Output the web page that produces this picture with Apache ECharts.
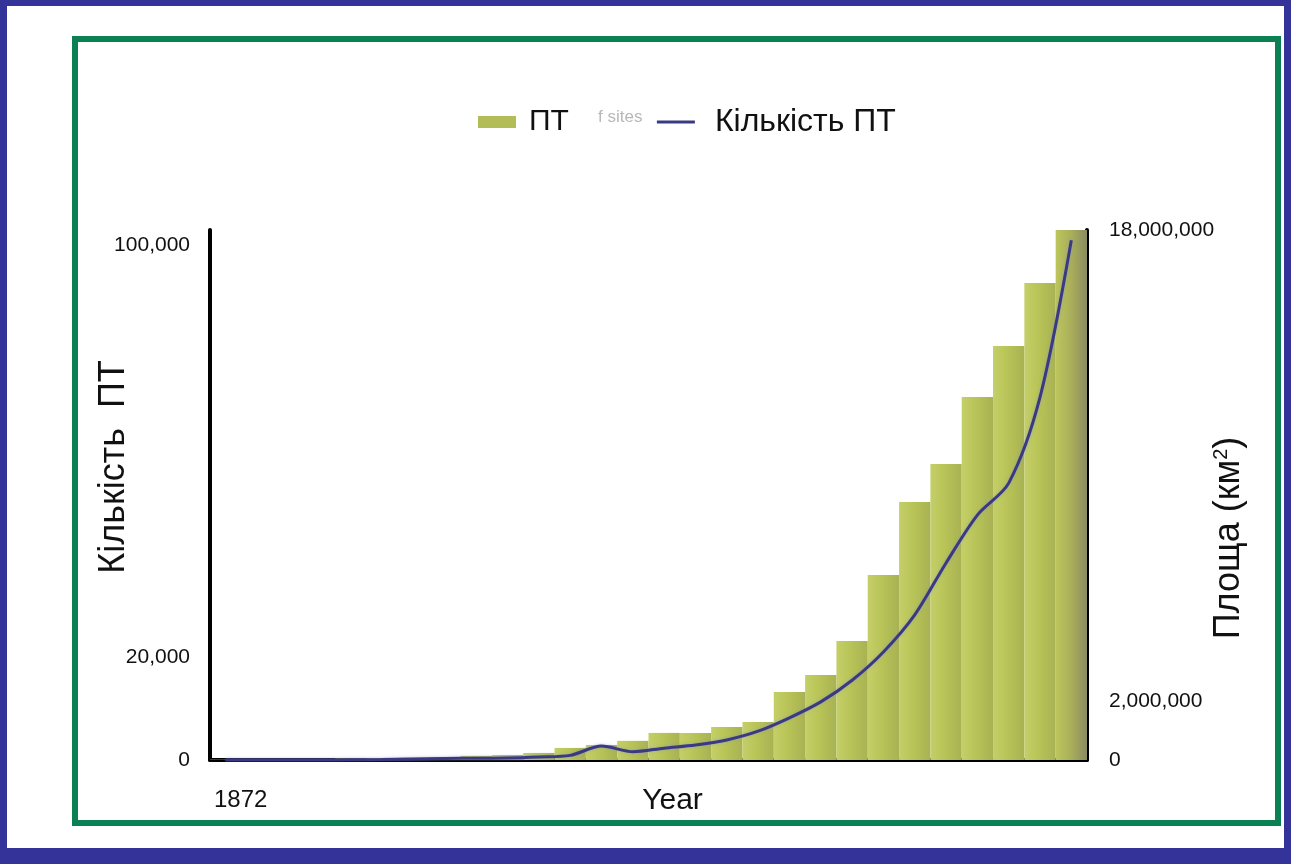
<!DOCTYPE html>
<html>
<head>
<meta charset="utf-8">
<script src="https://cdn.jsdelivr.net/npm/echarts@6/dist/echarts.min.js"></script>
<style>
  html, body { margin: 0; padding: 0; }
  body { width: 1291px; height: 864px; background: #333399; position: relative; overflow: hidden; }
  #page { position: absolute; left: 7px; top: 6px; width: 1277px; height: 842px; background: #ffffff; }
  #frame { position: absolute; left: 72px; top: 36px; width: 1197px; height: 778px; border: 6px solid #0b8052; }
  #chart { position: absolute; left: 0; top: 0; width: 1291px; height: 864px; }
</style>
</head>
<body>
<div id="page"></div>
<div id="frame"></div>
<div id="chart"></div>
<script>
// Categories (5-year steps, only the first label is shown in the reference)
const years = ['1872','1877','1882','1887','1892','1897','1902','1907','1912','1917',
               '1922','1927','1932','1937','1942','1947','1952','1957','1962','1967',
               '1972','1977','1982','1987','1992','1997','2002','2007'];
// Area (km²) – bars, right axis
const areaValues = [10000, 15000, 20000, 30000, 50000, 60000, 80000, 100000,
                    140000, 170000, 240000, 410000, 510000, 650000, 920000, 920000,
                    1120000, 1290000, 2310000, 2890000, 4040000, 6280000, 8760000,
                    10050000, 12330000, 14060000, 16200000, 18000000];
// Number of protected territories – line, left axis
const countValues = [0, 0, 0, 0, 50, 100, 200, 300, 350, 400, 600, 900, 2700, 1600,
                     2300, 2900, 3900, 5600, 8200, 11300, 15500, 21000, 28200, 38300,
                     47600, 53800, 70500, 101000];
// Tick labels shown
const leftTicks = [0, 20000, 100000];
const rightTicks = [0, 2000000, 18000000];

const FONT = '"Liberation Sans", Arial, sans-serif';
const chart = echarts.init(document.getElementById('chart'), null, { renderer: 'canvas' });

function barColor(p) {
  const last = p.dataIndex === areaValues.length - 1;
  return new echarts.graphic.LinearGradient(0, 0, 1, 0, last ? [
    { offset: 0, color: '#bcc65c' }, { offset: 0.5, color: '#a9ae5a' }, { offset: 1, color: '#8a8b62' }
  ] : [
    { offset: 0, color: '#c4cf68' }, { offset: 0.45, color: '#b8c457' }, { offset: 1, color: '#a8b254' }
  ]);
}

const fmt = v => v.toLocaleString('en-US');

chart.setOption({
  animation: false,
  textStyle: { fontFamily: FONT },
  legend: {
    left: 473, top: 101,
    itemWidth: 38, itemHeight: 12, itemGap: 88,
    textStyle: { fontSize: 30, color: '#111', fontFamily: FONT, padding: [0, 0, 0, 8] },
    data: [
      { name: 'ПТ', icon: 'rect', itemStyle: { color: '#b2bd58' } },
      { name: 'Кількість ПТ', icon: 'path://M0,0 L40,0 L40,3 L0,3 Z', itemStyle: { color: '#3a3a82' },
        textStyle: { fontSize: 32, color: '#111', fontFamily: FONT, padding: [0, 0, 0, 15] } }
    ]
  },
  graphic: [
    { type: 'text', left: 598, top: 109, silent: true,
      style: { text: 'f sites', fill: '#b8b8b8', font: '17px ' + FONT } }
  ],
  grid: { left: 210, right: 204, top: 230, bottom: 104, containLabel: false },
  xAxis: {
    type: 'category',
    data: years,
    name: 'Year',
    nameLocation: 'middle',
    nameGap: 26,
    nameMoveOverlap: false,
    nameTextStyle: { fontSize: 30, color: '#111', fontFamily: FONT, padding: [0, 0, 0, 48] },
    axisLine: { show: true, lineStyle: { color: '#000', width: 4 } },
    axisTick: { show: false },
    axisLabel: {
      interval: (i) => i === 0,
      fontSize: 24, color: '#111', fontFamily: FONT,
      margin: 28, padding: [0, 0, 0, 30]
    },
    splitLine: { show: false }
  },
  yAxis: [
    {
      type: 'value', position: 'left', min: 0, max: 103000,
      name: 'Кількість  ПТ', nameLocation: 'middle', nameGap: 78, nameRotate: 90,
      nameMoveOverlap: false,
      nameTextStyle: { fontSize: 36, color: '#111', fontFamily: FONT, padding: [0, 0, 0, 56] },
      axisLine: { show: true, lineStyle: { color: '#000', width: 4 } },
      axisTick: { show: false },
      splitLine: { show: false },
      axisLabel: { customValues: leftTicks, formatter: fmt, fontSize: 21, color: '#111', fontFamily: FONT, margin: 20 }
    },
    {
      type: 'value', position: 'right', min: 0, max: 18000000,
      name: 'Площа (км{sup|2})', nameLocation: 'middle', nameGap: 124, nameRotate: 90,
      nameMoveOverlap: false,
      nameTextStyle: { fontSize: 36, color: '#111', fontFamily: FONT, padding: [0, 86, 0, 0],
        rich: { sup: { fontSize: 20, color: '#111', fontFamily: FONT, verticalAlign: 'bottom', padding: [0, 0, 16, 0] } } },
      axisLine: { show: true, lineStyle: { color: '#000', width: 4 } },
      axisTick: { show: false },
      splitLine: { show: false },
      axisLabel: { customValues: rightTicks, formatter: fmt, fontSize: 21, color: '#111', fontFamily: FONT, margin: 22 }
    }
  ],
  series: [
    {
      name: 'ПТ', type: 'bar', yAxisIndex: 1, data: areaValues,
      barCategoryGap: '0%', z: 1,
      itemStyle: { color: barColor }
    },
    {
      name: 'Кількість ПТ', type: 'line', yAxisIndex: 0, data: countValues,
      smooth: 0.3, symbol: 'none', z: 3,
      lineStyle: { color: '#3a3a82', width: 3, shadowColor: 'rgba(140,140,210,0.6)', shadowBlur: 3 },
      itemStyle: { color: '#3a3a82' }
    }
  ]
});
</script>
</body>
</html>
